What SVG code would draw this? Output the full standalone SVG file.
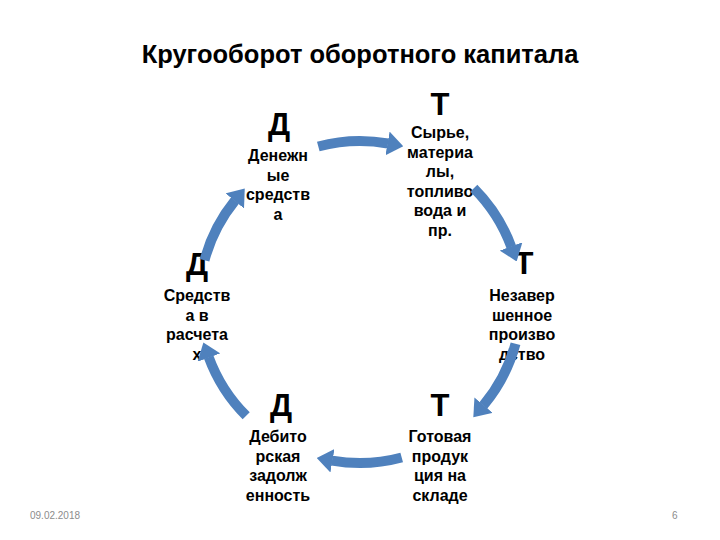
<svg xmlns="http://www.w3.org/2000/svg" width="720" height="540" viewBox="0 0 720 540">
<defs>
<style>
.title{font-family:"Liberation Sans",Arial,sans-serif;font-weight:bold;font-size:25.5px;fill:#000;text-anchor:middle}
.big{font-family:"Liberation Sans",Arial,sans-serif;font-weight:bold;font-size:31px;fill:#000;text-anchor:middle}
.lbl{font-family:"Liberation Sans",Arial,sans-serif;font-weight:bold;font-size:16px;fill:#000;text-anchor:middle}
.foot{font-family:"Liberation Sans",Arial,sans-serif;font-size:10px;fill:#8c8c8c}
.arc{fill:none;stroke:#4F81BD;stroke-width:10;marker-end:url(#head)}
</style>
<marker id="head" markerUnits="userSpaceOnUse" markerWidth="16" markerHeight="24" viewBox="0 0 16 24" refX="0.5" refY="12" orient="auto">
<path d="M0,0 L16,12 L0,24 z" fill="#4F81BD"/>
</marker>
</defs>
<rect width="720" height="540" fill="#fff"/>
<text class="title" x="360" y="63">Кругооборот оборотного капитала</text>

<g id="node-money">
<text class="big" x="279" y="135">Д</text>
<text class="lbl"><tspan x="278" y="161">Денежн</tspan><tspan x="278" y="180.5">ые</tspan><tspan x="278" y="200">средств</tspan><tspan x="278" y="219.5">а</tspan></text>
</g>
<g id="node-raw">
<text class="big" x="440" y="115">Т</text>
<text class="lbl"><tspan x="440" y="138">Сырье,</tspan><tspan x="440" y="157.5">материа</tspan><tspan x="440" y="177">лы,</tspan><tspan x="440" y="196.5">топливо</tspan><tspan x="440" y="216">вода и</tspan><tspan x="440" y="235.5">пр.</tspan></text>
</g>
<g id="node-wip">
<text class="big" x="524" y="274">Т</text>
<text class="lbl"><tspan x="522" y="301">Незавер</tspan><tspan x="522" y="320.5">шенное</tspan><tspan x="522" y="340">произво</tspan><tspan x="522" y="359.5">дство</tspan></text>
</g>
<g id="node-goods">
<text class="big" x="440" y="416">Т</text>
<text class="lbl"><tspan x="440" y="442">Готовая</tspan><tspan x="440" y="461.5">продук</tspan><tspan x="440" y="481">ция на</tspan><tspan x="440" y="500.5">складе</tspan></text>
</g>
<g id="node-debt">
<text class="big" x="281" y="416">Д</text>
<text class="lbl"><tspan x="278" y="442">Дебито</tspan><tspan x="278" y="461.5">рская</tspan><tspan x="278" y="481">задолж</tspan><tspan x="278" y="500.5">енность</tspan></text>
</g>
<g id="node-settle">
<text class="big" x="197" y="275">Д</text>
<text class="lbl"><tspan x="197" y="301">Средств</tspan><tspan x="197" y="320.5">а в</tspan><tspan x="197" y="340">расчета</tspan><tspan x="197" y="359.5">х</tspan></text>
</g>

<g id="connectors">
<path class="arc" d="M318.3,146.5 A161,161 0 0 1 388,143.5"/>
<path class="arc" d="M473.8,188.2 A161,161 0 0 1 511.3,246.9"/>
<path class="arc" d="M515.5,343.7 A161,161 0 0 1 483.3,405.5"/>
<path class="arc" d="M401.7,457.5 A161,161 0 0 1 332,460.6"/>
<path class="arc" d="M246.2,415.8 A161,161 0 0 1 208.7,357.1"/>
<path class="arc" d="M204.5,260.3 A161,161 0 0 1 235,200.5"/>
</g>

<text class="foot" x="30" y="519">09.02.2018</text>
<text class="foot" x="672" y="519">6</text>
</svg>
